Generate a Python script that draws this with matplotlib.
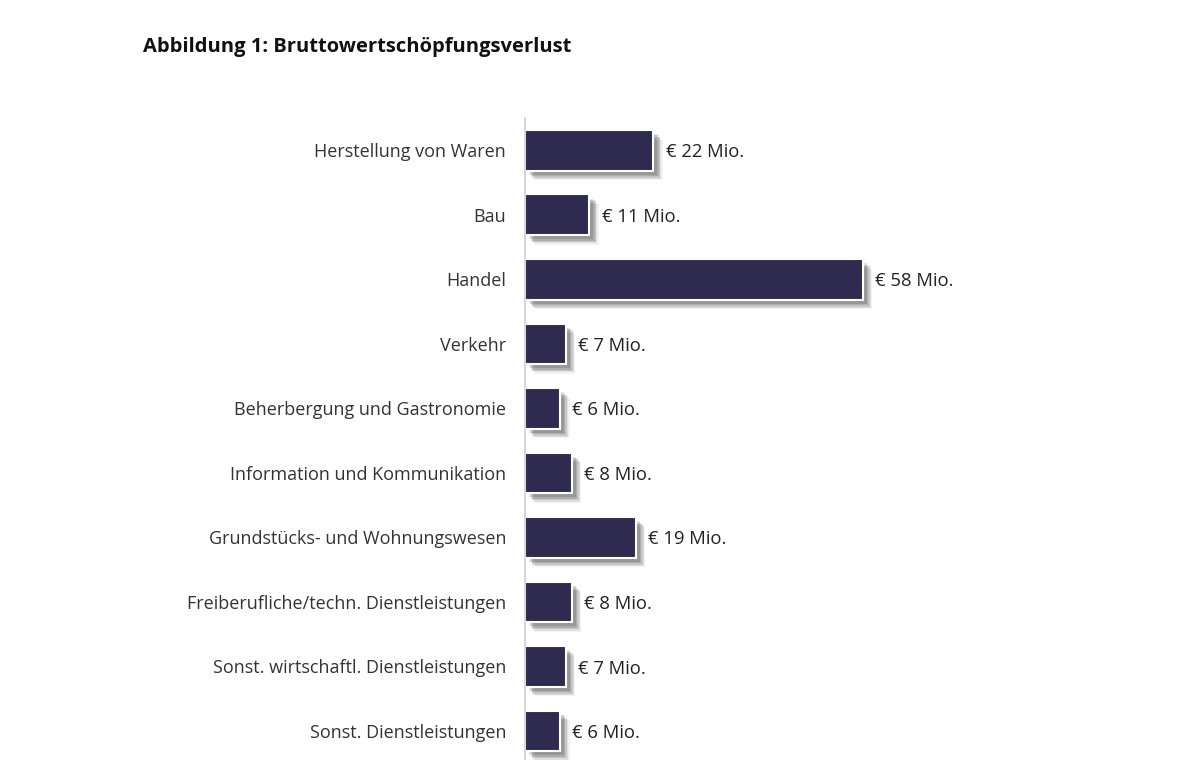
import matplotlib.pyplot as plt
import matplotlib.patheffects as pe

categories = [
    "Herstellung von Waren",
    "Bau",
    "Handel",
    "Verkehr",
    "Beherbergung und Gastronomie",
    "Information und Kommunikation",
    "Grundstücks- und Wohnungswesen",
    "Freiberufliche/techn. Dienstleistungen",
    "Sonst. wirtschaftl. Dienstleistungen",
    "Sonst. Dienstleistungen",
]
values = [22, 11, 58, 7, 6, 8, 19, 8, 7, 6]
value_labels = ["€ 22 Mio.", "€ 11 Mio.", "€ 58 Mio.", "€ 7 Mio.", "€ 6 Mio.",
                "€ 8 Mio.", "€ 19 Mio.", "€ 8 Mio.", "€ 7 Mio.", "€ 6 Mio."]

plt.rcParams['font.family'] = ['Open Sans', 'DejaVu Sans']

W, H = 1200, 760
fig = plt.figure(figsize=(W / 100, H / 100), dpi=100)
ax = fig.add_axes([525 / W, 0, 625 / W, (760 - 118) / H])

# soft drop shadow built from a few offset layers
shadow = [pe.SimplePatchShadow(offset=(o, -o), shadow_rgbFace='#000000', alpha=a)
          for o, a in [(7, 0.05), (6, 0.08), (5, 0.11), (4, 0.13), (3, 0.12)]]
shadow.append(pe.Normal())

ypos = list(range(len(categories)))
bars = ax.barh(ypos, values, height=0.63, color='#2e2a50',
               edgecolor='white', linewidth=1.5)
for b in bars:
    b.set_path_effects(shadow)

for y, v, t in zip(ypos, values, value_labels):
    ax.annotate(t, (v, y), xytext=(9, -1.5), textcoords='offset points',
                va='center', ha='left', fontsize=13.3, color='#222222')

ax.set_xlim(0, 625 / 5.82)
ax.set_ylim(9.45, -0.5)
ax.set_yticks(ypos)
ax.set_yticklabels(categories, fontsize=13, color='#333333')
ax.tick_params(axis='y', length=0, pad=13.5)
ax.set_xticks([])
for s in ['top', 'right', 'bottom']:
    ax.spines[s].set_visible(False)
ax.spines['left'].set_color('#d0d0d0')
ax.spines['left'].set_linewidth(1.2)

fig.text(143 / W, 1 - 47 / H, "Abbildung 1: Bruttowertschöpfungsverlust",
         fontsize=14.5, fontweight='bold', va='center', ha='left', color='#111111')

fig.savefig('out.png', dpi=100)
